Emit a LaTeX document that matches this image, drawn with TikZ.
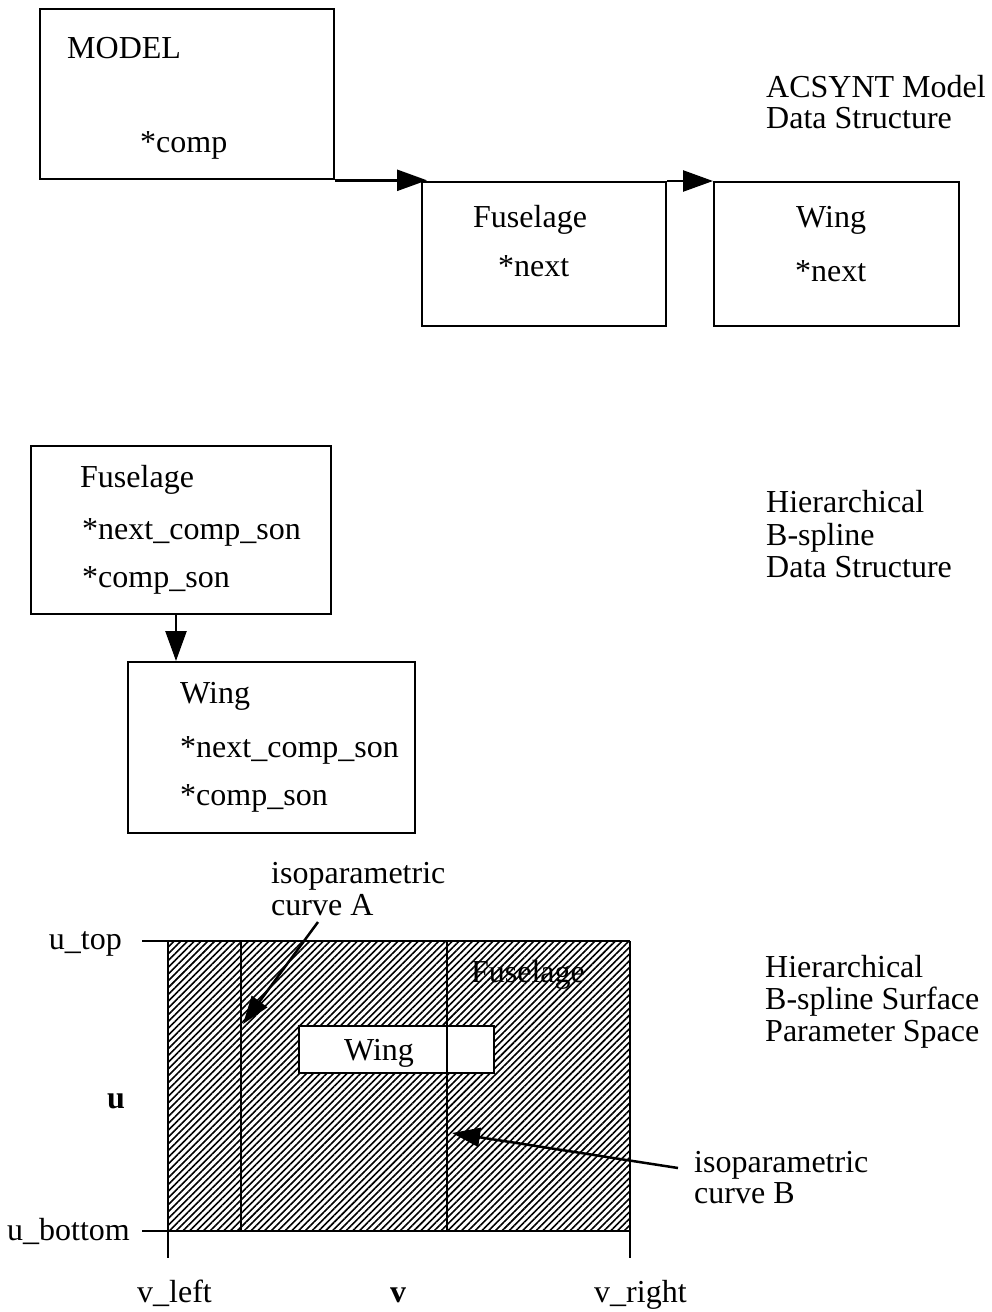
\documentclass[tikz,border=0pt]{standalone}
\usepackage{fontspec}
\setmainfont{Liberation Serif}
\usetikzlibrary{arrows.meta,patterns.meta}
\begin{document}
\begin{tikzpicture}[x=1pt,y=-1pt,
  box/.style={draw,line width=2.3pt,inner sep=0pt,anchor=north west},
  lbl/.style={font=\fontsize{32}{34}\selectfont,inner sep=0pt,anchor=base west},
  conn/.style={line width=2.5pt,-{Triangle[length=30pt,width=21pt]}},
  pointer/.style={line width=2.5pt,-{Triangle[length=28pt,width=19pt]}},
  axis/.style={line width=2.5pt},
  isoline/.style={line width=1.8pt}]
\useasboundingbox (0,0) rectangle (992,1312);

% ---- ACSYNT model data structure ----
\node[box,minimum width=294pt,minimum height=170pt] (model) at (39,8) {};
\node[box,minimum width=244pt,minimum height=144pt] (fus) at (421,181) {};
\node[box,minimum width=245pt,minimum height=144pt] (wing) at (713,181) {};
\node[lbl] (modeltxt) at (67,58) {MODEL};
\node[lbl] (comptxt) at (140,152) {*comp};
\node[lbl] (fustxt) at (473,227) {Fuselage};
\node[lbl] (fusnext) at (498,276) {*next};
\node[lbl] (wingtxt) at (796,227) {Wing};
\node[lbl] (wingnext) at (795,281) {*next};
\node[lbl] (acs1) at (766,97) {ACSYNT Model};
\node[lbl] (acs2) at (766,128) {Data Structure};
\draw[conn,shorten >=-6pt] (model.south east) -- (model.south east -| fus.north west);
\draw[conn] (fus.north east) -- (wing.north west);

% ---- hierarchical B-spline data structure ----
\node[box,minimum width=300pt,minimum height=168pt] (fus2) at (30,445) {};
\node[box,minimum width=287pt,minimum height=171pt] (wing2) at (127,661) {};
\node[lbl] (f2a) at (80,487) {Fuselage};
\node[lbl] (f2b) at (82,539) {*next\_comp\_son};
\node[lbl] (f2c) at (82,587) {*comp\_son};
\node[lbl] (w2a) at (180,703) {Wing};
\node[lbl] (w2b) at (180,757) {*next\_comp\_son};
\node[lbl] (w2c) at (180,805) {*comp\_son};
\node[lbl] (hb1) at (766,512) {Hierarchical};
\node[lbl] (hb2) at (766,545) {B-spline};
\node[lbl] (hb3) at (766,577) {Data Structure};
\draw[conn] ([xshift=49pt]wing2.north west |- fus2.south) -- ([xshift=49pt]wing2.north west);

% ---- parameter space ----
\node[lbl,anchor=base] (fusps) at (528,982) {Fuselage};
\fill[pattern={Lines[angle=45,distance=4.8pt,line width=1.6pt]}] (168,941) rectangle (630,1231);
\node[box,fill=white,minimum width=195pt,minimum height=47pt] (wingps) at (298,1025) {};
\node[lbl,anchor=base] (wingpstxt) at (379,1060) {Wing};
\draw[axis] (142,941) -- (630,941);
\draw[axis] (142,1231) -- (630,1231);
\draw[axis] (168,941) -- (168,1258);
\draw[axis] (630,941) -- (630,1258);
\draw[isoline] (241,941) -- (241,1231);
\draw[isoline] (447,941) -- (447,1231);

\node[lbl,anchor=base east] (utop) at (122,949) {u\_top};
\node[lbl,anchor=base east] (ubot) at (130,1240) {u\_bottom};
\node[lbl] (ulab) at (107,1108) {\bfseries u};
\node[lbl] (vleft) at (137,1302) {v\_left};
\node[lbl,anchor=base] (vlab) at (398,1302) {\bfseries v};
\node[lbl] (vright) at (594,1302) {v\_right};

\node[lbl] (isoA1) at (271,883) {isoparametric};
\node[lbl] (isoA2) at (271,915) {curve A};
\node[lbl] (isoB1) at (694,1172) {isoparametric};
\node[lbl] (isoB2) at (694,1203) {curve B};
\coordinate (tailA) at (318,922);
\coordinate (tipA) at (243,1024);
\coordinate (tailB) at (678,1168);
\coordinate (tipB) at (452,1133);
\draw[pointer] (tailA) -- (tipA);
\draw[pointer] (tailB) -- (tipB);

\node[lbl] (hs1) at (765,977) {Hierarchical};
\node[lbl] (hs2) at (765,1009) {B-spline Surface};
\node[lbl] (hs3) at (765,1041) {Parameter Space};
\end{tikzpicture}
\end{document}
